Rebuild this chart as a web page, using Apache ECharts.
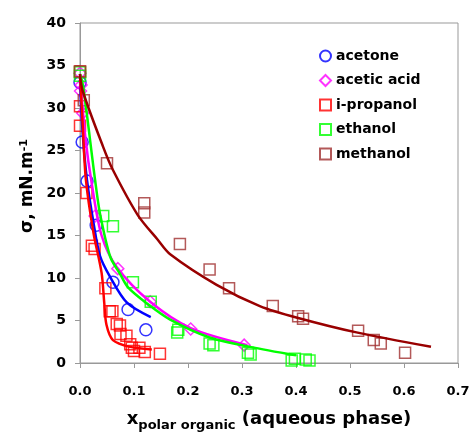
<!DOCTYPE html>
<html>
<head>
<meta charset="utf-8">
<script src="https://cdn.jsdelivr.net/npm/echarts@6/dist/echarts.min.js"></script>
<style>html,body{margin:0;padding:0;background:#fff}#c{width:471px;height:432px}</style>
</head>
<body>
<div id="c"></div>
<script>
// ---- data ----
const xTicks = [0.0, 0.1, 0.2, 0.3, 0.4, 0.5, 0.6, 0.7];
const yTicks = [0, 5, 10, 15, 20, 25, 30, 35, 40];

const acetonePts = [[0, 33.0], [0.004, 26.0], [0.013, 21.4], [0.030, 16.2], [0.061, 9.5], [0.089, 6.3], [0.122, 3.9]];
const aceticPts = [[0, 34.1], [0.002, 32.7], [0.001, 32.0], [0.005, 29.4], [0.028, 17.3], [0.070, 11.1], [0.130, 7.2], [0.205, 4.0], [0.304, 2.1]];
const ipropPts = [[0, 34.3], [0, 30.2], [0, 27.9], [0.012, 20.0], [0.022, 13.8], [0.027, 13.4], [0.047, 8.8], [0.055, 6.1], [0.060, 6.1],
  [0.068, 4.6], [0.074, 4.4], [0.075, 3.4], [0.086, 3.2], [0.093, 2.2], [0.096, 1.8], [0.100, 1.4], [0.110, 1.8], [0.120, 1.3], [0.148, 1.1]];
const ethanolPts = [[0, 34.2], [0, 33.8], [0.043, 17.3], [0.061, 16.1], [0.098, 9.5], [0.131, 7.2], [0.180, 3.6], [0.182, 3.9],
  [0.240, 2.3], [0.247, 2.1], [0.311, 1.2], [0.316, 1.0], [0.392, 0.3], [0.398, 0.5], [0.418, 0.4], [0.425, 0.3]];
const methanolPts = [[0, 34.3], [0.007, 30.9], [0.050, 23.5], [0.119, 18.8], [0.119, 17.7], [0.185, 14.0], [0.240, 11.0], [0.276, 8.8],
  [0.357, 6.7], [0.404, 5.5], [0.413, 5.2], [0.515, 3.8], [0.544, 2.7], [0.557, 2.3], [0.602, 1.2]];

const acetoneFit = [[0, 33.3], [0.005, 27.0], [0.013, 21.5], [0.025, 16.5], [0.037, 12.6], [0.056, 10.1], [0.087, 7.1], [0.131, 5.4]];
const aceticFit = [[0, 33.8], [0.010, 26.5], [0.022, 21.0], [0.040, 15.0], [0.068, 11.3], [0.130, 7.2], [0.205, 4.1], [0.310, 2.1]];
const ipropFit = [[0, 34.0], [0.005, 28.0], [0.011, 21.5], [0.025, 15.3], [0.040, 10.6], [0.045, 7.0], [0.049, 4.5], [0.061, 2.7], [0.093, 1.9], [0.133, 1.6]];
const ethanolFit = [[0, 34.0], [0.006, 32.5], [0.028, 21.5], [0.037, 17.6], [0.056, 12.5], [0.074, 10.5], [0.089, 8.9], [0.124, 7.0], [0.167, 5.1], [0.240, 3.0], [0.315, 1.9], [0.400, 0.9]];
const methanolFit = [[0, 34.0], [0.005, 32.0], [0.043, 25.4], [0.061, 22.7], [0.107, 17.4], [0.144, 14.5], [0.167, 12.8], [0.253, 9.2], [0.333, 6.7], [0.404, 5.3], [0.512, 3.6], [0.650, 1.9]];

const names = ['acetone', 'acetic acid', 'i-propanol', 'ethanol', 'methanol'];
const colors = ['#0000FF', '#FF00FF', '#FF0000', '#00FF00', '#990000'];
const markerColors = ['#0000FF', '#FF00FF', '#FF0000', '#00FF00', '#A03030'];
const symbols = ['circle', 'diamond', 'rect', 'rect', 'rect'];
const pts = [acetonePts, aceticPts, ipropPts, ethanolPts, methanolPts];
const fits = [acetoneFit, aceticFit, ipropFit, ethanolFit, methanolFit];

const F = 'DejaVu Sans';
const chart = echarts.init(document.getElementById('c'), null, {renderer: 'canvas'});
const series = [];
names.forEach((n, i) => {
  series.push({
    name: n, type: 'scatter', data: pts[i], symbol: symbols[i],
    symbolSize: symbols[i] === 'rect' ? 11 : 12,
    itemStyle: {color: 'rgba(0,0,0,0)', borderColor: markerColors[i], borderWidth: 1.5},
    z: 2
  });
});
names.forEach((n, i) => {
  series.push({
    name: n + ' fit', type: 'line', data: fits[i], smooth: 0.3, showSymbol: false, symbol: 'none',
    lineStyle: {color: colors[i], width: 2.5}, z: 3, silent: true
  });
});

chart.setOption({
  animation: false,
  backgroundColor: '#fff',
  grid: {left: 80, right: 13, top: 23, bottom: 69, show: true, borderColor: '#999', borderWidth: 1,
         containLabel: false, outerBoundsMode: 'none'},
  legend: {
    data: names, orient: 'vertical', left: 314, top: 44, itemGap: 10.5, itemWidth: 11, itemHeight: 11,
    textStyle: {fontFamily: F, fontWeight: 'bold', fontSize: 14, color: '#000'},
    selectedMode: false
  },
  xAxis: {
    type: 'value', min: 0, max: 0.7, interval: 0.1,
    axisLine: {show: true, lineStyle: {color: '#999'}},
    axisTick: {show: true, inside: false, length: 5, lineStyle: {color: '#999'}},
    splitLine: {show: false},
    axisLabel: {formatter: v => v.toFixed(1), margin: 22, color: '#000', fontFamily: F, fontWeight: 'bold', fontSize: 13},
    name: '{x|x}{sub|polar organic}{x| (aqueous phase)}',
    nameLocation: 'middle', nameGap: 47,
    nameTextStyle: {rich: {
      x: {fontFamily: F, fontWeight: 'bold', fontSize: 18, color: '#000', verticalAlign: 'bottom'},
      sub: {fontFamily: F, fontWeight: 'bold', fontSize: 13, color: '#000', verticalAlign: 'bottom', padding: [0, 0, -4, 0]}
    }}
  },
  yAxis: {
    type: 'value', min: 0, max: 40, interval: 5,
    axisLine: {show: true, lineStyle: {color: '#999'}},
    axisTick: {show: true, inside: false, length: 5, lineStyle: {color: '#999'}},
    splitLine: {show: false},
    axisLabel: {margin: 14, color: '#000', fontFamily: F, fontWeight: 'bold', fontSize: 14},
    name: '{t|σ, mN.m}{sup|-1}',
    nameLocation: 'middle', nameGap: 32,
    nameTextStyle: {padding: [0, 0, 0, 14], rich: {
      t: {fontFamily: F, fontWeight: 'bold', fontSize: 17, color: '#000', verticalAlign: 'top'},
      sup: {fontFamily: F, fontWeight: 'bold', fontSize: 11, color: '#000', verticalAlign: 'top'}
    }}
  },
  series: series
});
</script>
</body>
</html>
